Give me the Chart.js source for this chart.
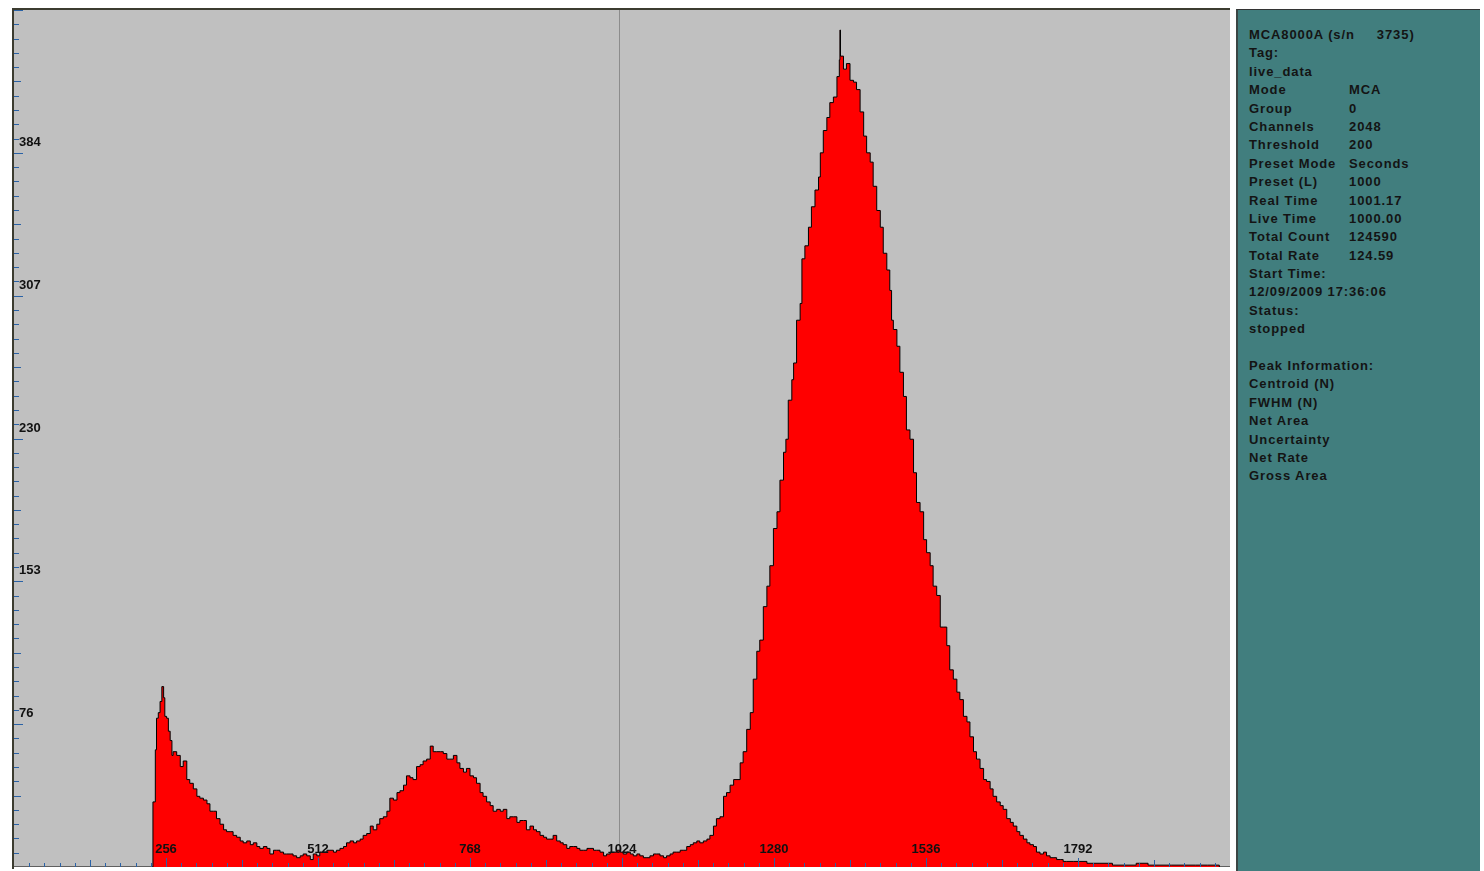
<!DOCTYPE html>
<html>
<head>
<meta charset="utf-8">
<title>MCA8000A spectrum</title>
<script src="https://cdn.jsdelivr.net/npm/chart.js@4.4.1/dist/chart.umd.min.js"></script>
<style>
body { margin: 0; background: #fff; width: 1484px; height: 871px; overflow: hidden; position: relative; font-family: "Liberation Sans", Arial, sans-serif; }
#spectrum { position: absolute; left: 0; top: 0; }
#info { position: absolute; left: 1236px; top: 9px; width: 244px; height: 862px; background: #417e7e; border-left: 2px solid #3b4644; border-top: 1px solid #333; box-sizing: border-box; padding: 16px 0 0 11px; font-weight: bold; font-size: 13px; letter-spacing: 0.9px; line-height: 18.4px; color: #141414; }
.row { height: 18.4px; white-space: nowrap; }
.k { display: inline-block; width: 100px; }
</style>
</head>
<body>
<canvas id="spectrum" width="1484" height="871"></canvas>
<div id="info">
	<div class="row">MCA8000A (s/n<span style="padding-left:22px">3735)</span></div>
	<div class="row">Tag:</div>
	<div class="row">live_data</div>
	<div class="row"><span class="k">Mode</span>MCA</div>
	<div class="row"><span class="k">Group</span>0</div>
	<div class="row"><span class="k">Channels</span>2048</div>
	<div class="row"><span class="k">Threshold</span>200</div>
	<div class="row"><span class="k">Preset Mode</span>Seconds</div>
	<div class="row"><span class="k">Preset (L)</span>1000</div>
	<div class="row"><span class="k">Real Time</span>1001.17</div>
	<div class="row"><span class="k">Live Time</span>1000.00</div>
	<div class="row"><span class="k">Total Count</span>124590</div>
	<div class="row"><span class="k">Total Rate</span>124.59</div>
	<div class="row">Start Time:</div>
	<div class="row">12/09/2009 17:36:06</div>
	<div class="row">Status:</div>
	<div class="row">stopped</div>
	<div class="row"></div>
	<div class="row">Peak Information:</div>
	<div class="row">Centroid (N)</div>
	<div class="row">FWHM (N)</div>
	<div class="row">Net Area</div>
	<div class="row">Uncertainty</div>
	<div class="row">Net Rate</div>
	<div class="row">Gross Area</div>
</div>
<script>
// spectrum, channel -> counts
const channels = [0, 232, 234, 238, 240, 243, 246, 249, 252, 254, 257, 260, 263, 266, 268, 274, 280, 285, 291, 296,
	302, 308, 313, 319, 325, 330, 336, 341, 347, 353, 358, 364, 369, 375, 381, 386, 392, 398, 403, 409,
	414, 420, 426, 431, 437, 442, 448, 454, 459, 465, 470, 476, 482, 487, 493, 499, 504, 510, 515, 521,
	527, 532, 538, 543, 549, 555, 560, 566, 572, 577, 583, 588, 594, 600, 605, 611, 616, 622, 628, 633,
	639, 645, 650, 656, 661, 667, 672, 678, 684, 689, 695, 701, 706, 712, 718, 723, 729, 734, 740, 746,
	751, 757, 762, 768, 774, 779, 785, 790, 796, 802, 807, 813, 819, 824, 830, 835, 841, 847, 852, 858,
	863, 869, 875, 880, 886, 892, 897, 903, 908, 914, 920, 925, 931, 936, 942, 948, 953, 959, 965, 970,
	976, 981, 987, 993, 998, 1004, 1009, 1015, 1021, 1026, 1032, 1038, 1043, 1049, 1054, 1060, 1066, 1071, 1077, 1082,
	1088, 1094, 1099, 1105, 1110, 1116, 1122, 1127, 1133, 1139, 1144, 1150, 1155, 1161, 1167, 1172, 1178, 1183, 1189, 1195,
	1200, 1206, 1212, 1223, 1228, 1234, 1240, 1245, 1251, 1256, 1262, 1268, 1273, 1279, 1285, 1290, 1296, 1300, 1304, 1310,
	1313, 1318, 1324, 1327, 1332, 1338, 1343, 1349, 1355, 1358, 1363, 1369, 1374, 1380, 1386, 1390, 1391, 1392, 1397, 1402,
	1408, 1414, 1419, 1425, 1431, 1436, 1442, 1447, 1453, 1459, 1464, 1470, 1475, 1478, 1481, 1487, 1492, 1498, 1503, 1509,
	1515, 1520, 1526, 1532, 1537, 1543, 1548, 1554, 1560, 1565, 1571, 1576, 1582, 1588, 1593, 1599, 1605, 1610, 1616, 1621,
	1627, 1633, 1638, 1644, 1649, 1655, 1661, 1666, 1672, 1678, 1683, 1689, 1694, 1700, 1706, 1711, 1717, 1722, 1728, 1734,
	1739, 1745, 1750, 1756, 1762, 1767, 1773, 1784, 1795, 1807, 1818, 1829, 1850, 1870, 1890, 1910, 1930, 1950, 1970, 1990,
	2010, 2030, 2048];
const counts = [0, 0, 35, 63, 80, 83, 89, 97, 91, 81, 80, 73, 68, 60, 62, 60, 54, 57, 47, 45,
	42, 38, 37, 36, 34, 30, 30, 26, 23, 20, 19, 19, 17, 16, 14, 13, 14, 12, 13, 11,
	10, 11, 10, 7, 9, 9, 8, 7, 7, 7, 6, 5, 6, 7, 6, 4, 7, 6, 8, 8,
	9, 9, 8, 9, 10, 11, 13, 14, 13, 14, 15, 17, 18, 22, 20, 23, 26, 27, 30, 37,
	36, 40, 41, 44, 49, 48, 47, 54, 55, 57, 58, 65, 62, 62, 62, 61, 58, 58, 60, 56,
	53, 51, 53, 49, 48, 45, 40, 38, 35, 33, 30, 31, 30, 31, 26, 27, 27, 24, 25, 25,
	20, 22, 20, 19, 17, 16, 15, 15, 17, 14, 13, 12, 10, 11, 11, 10, 9, 9, 10, 10,
	9, 9, 8, 6, 7, 8, 8, 9, 8, 7, 8, 7, 6, 7, 6, 5, 5, 6, 7, 7,
	6, 5, 6, 7, 8, 8, 9, 9, 11, 12, 13, 14, 13, 14, 15, 17, 22, 26, 27, 38,
	40, 44, 47, 56, 62, 74, 83, 101, 116, 122, 140, 151, 162, 182, 191, 208, 223, 230, 251, 262,
	271, 294, 303, 327, 334, 344, 355, 364, 371, 384, 396, 403, 411, 414, 425, 434, 450, 436, 429, 432,
	423, 422, 418, 406, 393, 384, 379, 366, 353, 344, 330, 321, 310, 294, 289, 280, 266, 253, 235, 230,
	212, 196, 191, 176, 169, 162, 151, 146, 129, 129, 119, 106, 101, 94, 90, 81, 78, 70, 62, 58,
	53, 47, 46, 42, 38, 35, 33, 31, 26, 24, 22, 19, 17, 15, 13, 12, 11, 8, 7, 8,
	6, 5, 5, 4, 4, 3, 3, 3, 3, 2, 2, 2, 1, 1, 2, 1, 1, 1, 1, 1,
	1, 0, 0];

const xTickLabels = [256, 512, 768, 1024, 1280, 1536, 1792];
const yTickValues = [76.8, 153.6, 230.4, 307.2, 384];
const yTickLabels = [76, 153, 230, 307, 384];
const xMinorStep = 25.6;
const yMinorStep = 7.68;
const cursorChannel = 1019;

const mcaAxes = {
	id: 'mcaAxes',
	beforeDraw(chart) {
		const {ctx, chartArea: a, scales: {x}} = chart;
		ctx.save();
		ctx.fillStyle = '#c0c0c0';
		ctx.fillRect(a.left, a.top, a.right - a.left, a.bottom - a.top);
		// cursor
		const cx = Math.round(x.getPixelForValue(cursorChannel)) + 0.5;
		ctx.strokeStyle = '#8c8c8c';
		ctx.lineWidth = 1;
		ctx.beginPath();
		ctx.moveTo(cx, a.top);
		ctx.lineTo(cx, a.bottom);
		ctx.stroke();
		ctx.restore();
	},
	afterDatasetsDraw(chart) {
		const {ctx, chartArea: a, scales: {x, y}} = chart;
		ctx.save();
		ctx.strokeStyle = '#2a62a6';
		ctx.lineWidth = 1;
		ctx.beginPath();
		for (let i = 1; i * yMinorStep <= y.max + 0.01; i++) {
			const py = Math.round(y.getPixelForValue(i * yMinorStep)) + 0.5;
			const len = i % 10 === 0 ? 9 : (i % 5 === 0 ? 7 : 5);
			ctx.moveTo(a.left, py);
			ctx.lineTo(a.left + len, py);
		}
		for (let i = 1; i * xMinorStep < x.max; i++) {
			const px = Math.round(x.getPixelForValue(i * xMinorStep)) + 0.5;
			const len = i % 10 === 0 ? 9 : (i % 5 === 0 ? 7 : 4);
			ctx.moveTo(px, a.bottom);
			ctx.lineTo(px, a.bottom - len);
		}
		ctx.stroke();

		// frame, left and top only
		ctx.strokeStyle = '#3c3c30';
		ctx.lineWidth = 2;
		ctx.beginPath();
		ctx.moveTo(a.left - 1, a.bottom + 2);
		ctx.lineTo(a.left - 1, a.top - 1);
		ctx.lineTo(a.right, a.top - 1);
		ctx.stroke();

		ctx.fillStyle = '#111';
		ctx.font = 'bold 13px "Liberation Sans", Arial, sans-serif';
		ctx.textBaseline = 'middle';
		ctx.textAlign = 'left';
		yTickValues.forEach((v, i) => ctx.fillText(String(yTickLabels[i]), a.left + 5, y.getPixelForValue(v) - 10.5));
		ctx.textAlign = 'center';
		xTickLabels.forEach(v => ctx.fillText(String(v), x.getPixelForValue(v), a.bottom - 17.5));
		ctx.restore();
	}
};

new Chart(document.getElementById('spectrum'), {
	type: 'line',
	data: {
		datasets: [{
			label: 'live_data',
			data: channels.map((c, i) => ({x: c, y: counts[i]})),
			stepped: true,
			fill: 'origin',
			backgroundColor: '#ff0000',
			borderColor: '#000000',
			borderWidth: 1,
			pointRadius: 0
		}]
	},
	options: {
		responsive: false,
		animation: false,
		devicePixelRatio: 1,
		layout: {padding: {left: 14, top: 10, right: 254, bottom: 4}},
		plugins: {legend: {display: false}, tooltip: {enabled: false}},
		scales: {
			x: {type: 'linear', min: 0, max: 2048, display: false},
			y: {min: 0, max: 460.8, display: false}
		}
	},
	plugins: [mcaAxes]
});
</script>
</body>
</html>
